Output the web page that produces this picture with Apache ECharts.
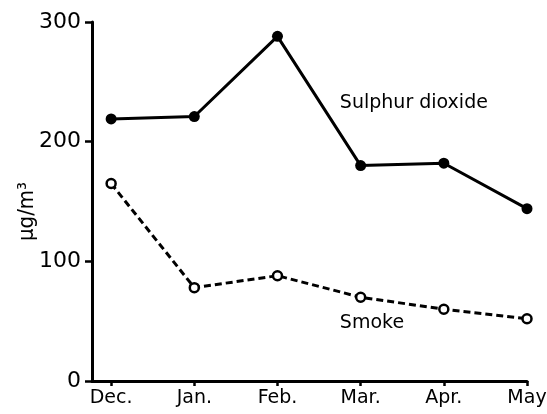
<!DOCTYPE html>
<html>
<head>
<meta charset="utf-8">
<script src="https://cdn.jsdelivr.net/npm/echarts@6/dist/echarts.min.js"></script>
<style>
  html, body { margin: 0; padding: 0; background: #fff; }
  #chart { width: 547px; height: 414px; }
</style>
</head>
<body>
<div id="chart"></div>
<script>
// months along the x axis
var months = ['Dec.', 'Jan.', 'Feb.', 'Mar.', 'Apr.', 'May'];
// concentrations, µg/m3
var sulphurDioxide = [219, 221, 288, 180, 182, 144];
var smoke = [165, 78, 88, 70, 60, 52];
var yTicks = [0, 100, 200, 300];

var font = 'DejaVu Sans';

function pairs(values) {
  return values.map(function (v, i) { return [i, v]; });
}

var chart = echarts.init(document.getElementById('chart'));
chart.setOption({
  animation: false,
  grid: { left: 92, right: 20, top: 22, bottom: 33, outerBoundsMode: 'none' },
  xAxis: {
    type: 'value',
    min: -0.23,
    max: 5,
    splitLine: { show: false },
    axisLine: { onZero: false, lineStyle: { color: '#000', width: 3 } },
    axisTick: { customValues: [0, 1, 2, 3, 4, 5], length: 5, lineStyle: { color: '#000', width: 2.5 } },
    axisLabel: {
      customValues: [0, 1, 2, 3, 4, 5],
      color: '#000', fontFamily: font, fontSize: 19, margin: 8,
      formatter: function (v) { return months[Math.round(v)]; }
    }
  },
  yAxis: {
    type: 'value',
    min: 0,
    max: 300,
    interval: 100,
    name: 'μg/m³',
    nameLocation: 'middle',
    nameGap: 54,
    nameMoveOverlap: false,
    nameTextStyle: { color: '#000', fontFamily: 'DejaVu Sans Condensed', fontSize: 22, padding: [0, 20, 0, 0] },
    splitLine: { show: false },
    axisLine: { show: true, onZero: false, lineStyle: { color: '#000', width: 3 } },
    axisTick: { show: true, length: 7, lineStyle: { color: '#000', width: 2.5 } },
    axisLabel: {
      color: '#000', fontFamily: font, fontSize: 22, margin: 11,
      formatter: function (v) { return yTicks.indexOf(v) >= 0 ? String(v) : ''; }
    }
  },
  series: [
    {
      name: 'Sulphur dioxide',
      type: 'line',
      data: pairs(sulphurDioxide),
      symbol: 'circle',
      symbolSize: 11,
      lineStyle: { color: '#000', width: 3 },
      itemStyle: { color: '#000' },
      markPoint: {
        symbol: 'circle',
        symbolSize: 0,
        data: [{ coord: [2.75, 232] }],
        label: {
          show: true, position: 'right', distance: 0, color: '#000', fontFamily: font, fontSize: 19,
          formatter: 'Sulphur dioxide'
        }
      }
    },
    {
      name: 'Smoke',
      type: 'line',
      data: pairs(smoke),
      symbol: 'circle',
      symbolSize: 9,
      lineStyle: { color: '#000', width: 3, type: [7, 4] },
      itemStyle: { color: '#fff', borderColor: '#000', borderWidth: 2.5 },
      markPoint: {
        symbol: 'circle',
        symbolSize: 0,
        data: [{ coord: [2.75, 48] }],
        label: {
          show: true, position: 'right', distance: 0, color: '#000', fontFamily: font, fontSize: 19,
          formatter: 'Smoke'
        }
      }
    }
  ]
});
</script>
</body>
</html>
